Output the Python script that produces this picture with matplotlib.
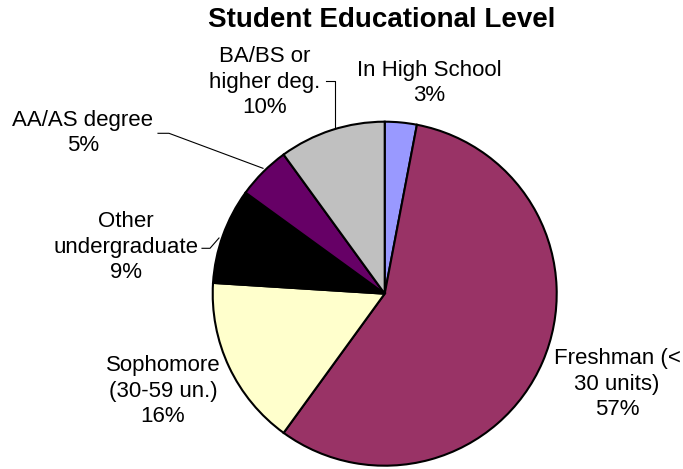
import matplotlib
matplotlib.use("Agg")
import matplotlib.pyplot as plt

plt.rcParams['font.family'] = ['Liberation Sans', 'DejaVu Sans']

title = "Student Educational Level"
categories = ["In High School", "Freshman (<\n30 units)", "Sophomore\n(30-59 un.)",
              "Other\nundergraduate", "AA/AS degree", "BA/BS or\nhigher deg."]
values = [3, 57, 16, 9, 5, 10]
colors = ["#9999FF", "#993366", "#FFFFCC", "#000000", "#660066", "#C0C0C0"]

W, H = 683, 469
fig = plt.figure(figsize=(W / 100, H / 100), dpi=100)
ax = fig.add_axes([0, 0, 1, 1])

def Y(y):
    return H - y

cx, cy, r = 384.7, 293.7, 172
ax.pie(values, colors=colors, startangle=90, counterclock=False,
       center=(cx, Y(cy)), radius=r, frame=True,
       wedgeprops=dict(edgecolor="black", linewidth=1.5))
ax.set_xlim(0, W)
ax.set_ylim(0, H)
ax.set_aspect("equal")
ax.set_axis_off()

# label positions (image px)
label_pos = [(429, 83), (617, 384), (163, 391), (126, 247), (83, 133), (264.5, 82)]
for name, v, (x, y) in zip(categories, values, label_pos):
    ax.text(x, Y(y), f"{name}\n{v}%", ha="center", va="center",
            fontsize=16, linespacing=1.3, color="black")

# leader lines
ax.plot([326, 335, 335], [Y(81), Y(81), Y(127)], color="black", lw=0.8)
ax.plot([158, 169, 263], [Y(133.3), Y(133.3), Y(168.3)], color="black", lw=0.8)
ax.plot([202, 210, 219], [Y(248.3), Y(248.3), Y(238)], color="black", lw=0.8)

ax.text(381.5, Y(20), title, ha="center", va="center", fontsize=20,
        fontweight="bold")

fig.savefig("out.png", dpi=100)
